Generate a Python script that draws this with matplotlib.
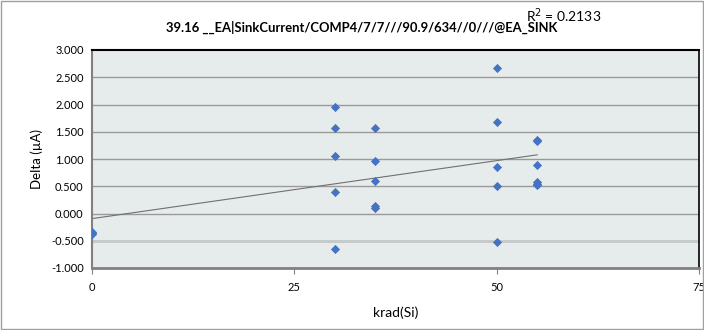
import numpy as np
import matplotlib
matplotlib.use("Agg")
import matplotlib.pyplot as plt
from matplotlib.patches import Rectangle

krad = [0, 0, 0, 30, 30, 30, 30, 30, 35, 35, 35, 35, 35, 50, 50, 50, 50, 50, 55, 55, 55, 55, 55, 55]
delta = [-0.34, -0.36, -0.38, 1.96, 1.57, 1.05, 0.40, -0.66, 1.57, 0.96, 0.59, 0.14, 0.11,
         2.67, 1.67, 0.85, 0.50, -0.52, 1.35, 1.33, 0.89, 0.58, 0.55, 0.52]
title = "39.16 __EA|SinkCurrent/COMP4/7/7///90.9/634//0///@EA_SINK"
r2_text = "R$^2$ = 0.2133"
xticks = [0, 25, 50, 75]
yticks = [-1.0, -0.5, 0.0, 0.5, 1.0, 1.5, 2.0, 2.5, 3.0]

plt.rcParams['font.family'] = ['Lato', 'DejaVu Sans']
fig = plt.figure(figsize=(7.04, 3.3), dpi=100)
fig.patches.append(Rectangle((0.001, 0.002), 0.997, 0.995, transform=fig.transFigure,
                             fill=False, edgecolor='#a0a0a0', linewidth=1.0))
ax = fig.add_axes([92/704, 1-268/330, (699-92)/704, (268-50)/330])
ax.set_facecolor('#e6ebeb')
ax.set_xlim(0, 75)
ax.set_ylim(-1.0, 3.0)
for y in yticks[1:-1]:
    if y == -0.5:
        ax.axhline(y, color='#c4c8c8', lw=2.0, zorder=1)
    else:
        ax.axhline(y, color='#9a9a9a', lw=1.0, zorder=1)

ax.scatter(krad, delta, marker='D', s=22, color='#4472c4', zorder=3, linewidths=0)
coef = np.polyfit(krad, delta, 1)
xs = np.array([min(krad), max(krad)])
ax.plot(xs, np.polyval(coef, xs), color='#707070', lw=0.8, zorder=2)

ax.set_xticks(xticks)
ax.set_xticklabels([str(t) for t in xticks], fontsize=8)
ax.set_yticks(yticks)
ax.set_yticklabels([f"{t:.3f}" for t in yticks], fontsize=8)
ax.tick_params(axis='x', direction='out', length=4, color='#808080', pad=6)
ax.tick_params(axis='y', length=0, pad=6)
ax.spines['top'].set_color('black'); ax.spines['top'].set_linewidth(1.5)
ax.spines['right'].set_color('black'); ax.spines['right'].set_linewidth(1.2)
ax.spines['left'].set_color('#808080'); ax.spines['left'].set_linewidth(1.5)
ax.spines['bottom'].set_color('#808080'); ax.spines['bottom'].set_linewidth(2)

ax.set_xlabel("krad(Si)", fontsize=10, labelpad=10)
ax.set_ylabel("Delta (µA)", fontsize=9.5, labelpad=6)
fig.text(362/704, 1-27/330, title, ha='center', va='center', fontsize=9.4, fontweight='bold')
fig.text(526/704, 1-16/330, r2_text, ha='left', va='center', fontsize=10)

fig.savefig("out.png", dpi=100)
